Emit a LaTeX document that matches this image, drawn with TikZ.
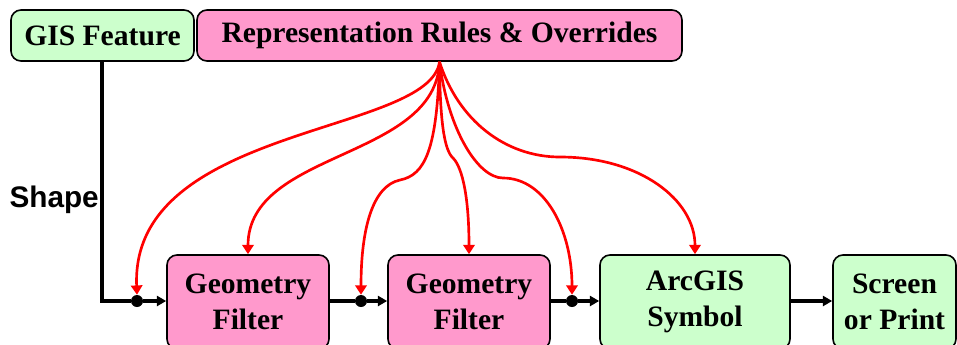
\documentclass[tikz,border=0pt]{standalone}
\usepackage{fontspec}
\setmainfont{Liberation Serif}
\newfontfamily\shapefont{Liberation Sans}
\usetikzlibrary{arrows.meta}
\definecolor{boxgreen}{HTML}{CCFFCC}
\definecolor{boxpink}{HTML}{FF99CC}
\begin{document}
\begin{tikzpicture}[x=0.75pt,y=-0.75pt,
  box/.style={draw=black,line width=1.2pt,rounded corners=7.5pt,
    font=\fontsize{22.2}{26.5}\selectfont\bfseries,align=center,inner sep=0pt},
  gbox/.style={box,fill=boxgreen},
  pbox/.style={box,fill=boxpink},
  dotnode/.style={circle,fill=black,inner sep=0pt,minimum size=9pt},
  flow/.style={draw=black,line width=2.4pt,-{Triangle[length=7pt,width=7.5pt]}},
  flowplain/.style={draw=black,line width=2.4pt},
  rule/.style={draw=red,line width=2pt,-{Triangle[length=7pt,width=8.5pt]}}]
\useasboundingbox (0,0) rectangle (957,344);
\clip (0,0) rectangle (957,344);
\fill[white] (0,0) rectangle (957,344);

\node[gbox,minimum width=137.25pt,minimum height=38.25pt] (gis) at (102.5,35.5) {\raisebox{-1.2pt}{GIS Feature}};
\node[pbox,minimum width=363.75pt,minimum height=38.25pt] (rep) at (439.5,35.5) {\raisebox{-1.2pt}{Representation Rules \& Overrides}};

\node[pbox,minimum width=121.5pt,minimum height=70.5pt] (gf1) at (248,302) {Geometry\\Filter};
\node[pbox,minimum width=121.5pt,minimum height=70.5pt] (gf2) at (469,302) {Geometry\\Filter};
\node[gbox,minimum width=142.5pt,minimum height=70.5pt] (arc) at (695,302) {ArcGIS\\Symbol};
\node[gbox,minimum width=92.25pt,minimum height=70.5pt] (scr) at (894.5,302) {Screen\\or Print};

\node[dotnode] (d1) at (137,301) {};
\node[dotnode] (d2) at (361,301) {};
\node[dotnode] (d3) at (572,301) {};
\coordinate (corner) at (102,301);

\node[font=\fontsize{22.3}{26}\selectfont\shapefont\bfseries,anchor=east,inner sep=0pt] (shape) at (99,200) {Shape};

% black flow
\draw[flowplain] (gis.south -| corner) -- (corner) -- (d1);
\draw[flow] (d1) -- (gf1.west |- d1);
\draw[flowplain] (gf1.east |- d2) -- (d2);
\draw[flow] (d2) -- (gf2.west |- d2);
\draw[flowplain] (gf2.east |- d3) -- (d3);
\draw[flow] (d3) -- (arc.west |- d3);
\draw[flow] (arc.east |- d3) -- (scr.west |- d3);

% red rule arrows
\draw[rule] (rep.south) .. controls (430,135) and (130,125) .. (d1.north);
\draw[rule] (rep.south) .. controls (436,160) and (248,150) .. (gf1.north);
\draw[rule] (rep.south) .. controls (437,150) and (425,175) .. (400,180)
  .. controls (372,186) and (361,230) .. (d2.north);
\draw[rule] (rep.south) .. controls (440,120) and (444,150) .. (453,158)
  .. controls (463,168) and (469,200) .. (gf2.north);
\draw[rule] (rep.south) .. controls (448,130) and (478,178) .. (503,178)
  .. controls (545,178) and (572,230) .. (d3.north);
\draw[rule] (rep.south) .. controls (458,120) and (505,157) .. (560,157)
  .. controls (640,157) and (695,200) .. (arc.north);
\end{tikzpicture}
\end{document}
